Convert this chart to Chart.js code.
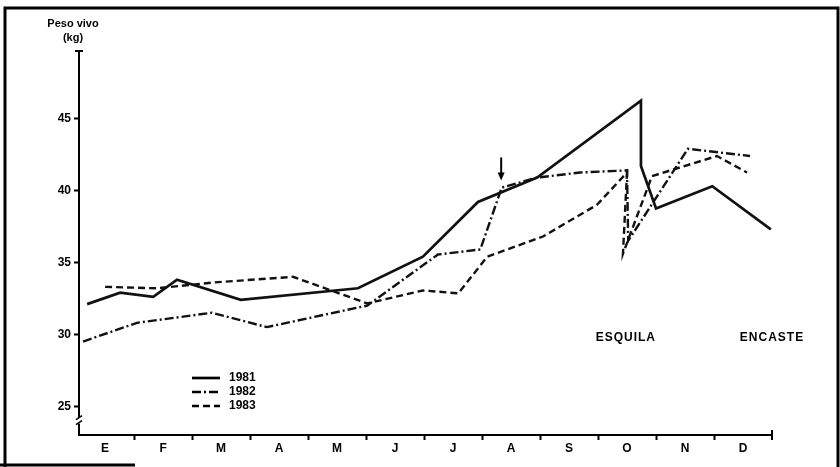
<!DOCTYPE html>
<html>
<head>
<meta charset="utf-8">
<script src="https://cdn.jsdelivr.net/npm/chart.js@4.4.0/dist/chart.umd.min.js"></script>
<style>
  html, body { margin: 0; padding: 0; background: #fff; }
  #wrap { position: relative; width: 840px; height: 467px; }
</style>
</head>
<body>
<div id="wrap"><canvas id="chart" width="840" height="467"></canvas></div>
<script>
// month initials (Spanish), shown at the middle of each month
const months = ["E", "F", "M", "A", "M", "J", "J", "A", "S", "O", "N", "D"];
const yTicks = [25, 30, 35, 40, 45];
const years = ["1981", "1982", "1983"];

// weighing dates in months from 1 January, live weight in kg
const x1981 = [0.19, 0.76, 1.33, 1.74, 2.84, 4.86, 5.98, 6.93, 7.95, 9.74, 9.74, 10.0, 10.97, 11.98];
const y1981 = [32.1, 32.9, 32.6, 33.8, 32.4, 33.2, 35.4, 39.2, 40.9, 46.25, 41.7, 38.75, 40.3, 37.3];

const x1982 = [0.12, 1.05, 2.34, 3.29, 5.02, 6.24, 6.97, 7.34, 7.95, 8.69, 9.5, 9.52, 10.55, 11.62];
const y1982 = [29.5, 30.8, 31.5, 30.5, 32.0, 35.55, 35.9, 40.2, 40.9, 41.25, 41.4, 36.5, 42.9, 42.4];

const x1983 = [0.5, 1.4, 2.36, 3.74, 5.02, 5.98, 6.59, 7.09, 8.05, 8.98, 9.5, 9.43, 9.93, 11.05, 11.57];
const y1983 = [33.3, 33.2, 33.6, 34.0, 32.15, 33.05, 32.85, 35.4, 36.8, 39.0, 41.25, 35.6, 41.0, 42.4, 41.25];

const toPoints = (xs, ys) => xs.map((x, i) => ({ x: x, y: ys[i] }));

// x ticks: month boundaries (marks only) and month centres (letters only)
const xTickValues = [];
for (let i = 0; i < 12; i++) {
  xTickValues.push(i + 0.5);
  if (i > 0) xTickValues.push(i);
}
xTickValues.sort((a, b) => a - b);
const isCentre = (v) => Math.abs(v % 1 - 0.5) < 0.01;

const FONT = "'Liberation Sans', Arial, sans-serif";

// frame, axis caps, axis break, notes, arrow and the little legend
const decor = {
  id: "decor",
  afterDraw(chart) {
    const ctx = chart.ctx;
    const a = chart.chartArea;
    const xs = chart.scales.x;
    const ys = chart.scales.y;
    ctx.save();
    ctx.strokeStyle = "#000";
    ctx.fillStyle = "#000";
    ctx.lineCap = "butt";

    // outer frame
    ctx.lineWidth = 3;
    ctx.beginPath();
    ctx.moveTo(5, 467); ctx.lineTo(5, 8); ctx.lineTo(838, 8); ctx.lineTo(838, 467);
    ctx.moveTo(0, 465); ctx.lineTo(135, 465);
    ctx.stroke();

    // cap on top of y axis, end mark on x axis
    ctx.lineWidth = 2;
    ctx.beginPath();
    ctx.moveTo(a.left - 4, a.top); ctx.lineTo(a.left + 4, a.top);
    ctx.moveTo(a.right, a.bottom - 5); ctx.lineTo(a.right, a.bottom + 5);
    ctx.stroke();

    // axis break near the foot of the y axis
    const yb = ys.getPixelForValue(24);
    ctx.fillStyle = "#fff";
    ctx.fillRect(a.left - 3, yb - 3, 6, 6);
    ctx.fillStyle = "#000";
    ctx.lineWidth = 1.5;
    ctx.beginPath();
    ctx.moveTo(a.left - 3, yb - 1); ctx.lineTo(a.left + 3, yb - 5);
    ctx.moveTo(a.left - 3, yb + 4); ctx.lineTo(a.left + 3, yb);
    ctx.stroke();

    // y axis title
    ctx.font = "bold 11px " + FONT;
    ctx.textAlign = "center";
    ctx.textBaseline = "middle";
    ctx.fillText("Peso vivo", 73, 24);
    ctx.fillText("(kg)", 73, 38);

    // notes under the curves
    ctx.font = "bold 12px " + FONT;
    ctx.letterSpacing = "1px";
    ctx.fillText("ESQUILA", xs.getPixelForValue(9.48), ys.getPixelForValue(29.8));
    ctx.fillText("ENCASTE", xs.getPixelForValue(12.0), ys.getPixelForValue(29.8));
    ctx.letterSpacing = "0px";

    // arrow over the August weighing of 1982
    const ax = xs.getPixelForValue(7.33);
    const ay0 = ys.getPixelForValue(42.3);
    const ay1 = ys.getPixelForValue(40.7);
    ctx.lineWidth = 2;
    ctx.beginPath();
    ctx.moveTo(ax, ay0); ctx.lineTo(ax, ay1 - 6);
    ctx.stroke();
    ctx.beginPath();
    ctx.moveTo(ax - 3.5, ay1 - 8); ctx.lineTo(ax + 3.5, ay1 - 8); ctx.lineTo(ax, ay1);
    ctx.closePath();
    ctx.fill();

    // legend
    ctx.textAlign = "left";
    ctx.font = "bold 12px " + FONT;
    chart.data.datasets.forEach((ds, i) => {
      const ly = 378 + i * 14;
      ctx.lineWidth = ds.borderWidth;
      ctx.setLineDash(ds.borderDash || []);
      ctx.beginPath();
      ctx.moveTo(192, ly); ctx.lineTo(220, ly);
      ctx.stroke();
      ctx.setLineDash([]);
      ctx.fillText(ds.label, 229, ly);
    });
    ctx.restore();
  }
};

new Chart(document.getElementById("chart"), {
  type: "line",
  data: {
    datasets: [
      {
        label: years[0],
        data: toPoints(x1981, y1981),
        borderColor: "#111",
        borderWidth: 2.7,
        borderDash: []
      },
      {
        label: years[1],
        data: toPoints(x1982, y1982),
        borderColor: "#111",
        borderWidth: 2.4,
        borderDash: [9, 3, 2, 3]
      },
      {
        label: years[2],
        data: toPoints(x1983, y1983),
        borderColor: "#111",
        borderWidth: 2.4,
        borderDash: [7, 4]
      }
    ]
  },
  options: {
    responsive: false,
    animation: false,
    devicePixelRatio: 1,
    layout: { padding: { top: 51, right: 68, left: 0, bottom: 0 } },
    elements: {
      point: { radius: 0 },
      line: { tension: 0, fill: false }
    },
    plugins: {
      legend: { display: false },
      tooltip: { enabled: false }
    },
    scales: {
      x: {
        type: "linear",
        min: 0.05,
        max: 12,
        afterBuildTicks: (axis) => { axis.ticks = xTickValues.map((v) => ({ value: v })); },
        afterFit: (axis) => { axis.height = 32; },
        border: { color: "#000", width: 2 },
        grid: {
          drawOnChartArea: false,
          drawTicks: true,
          tickLength: 5,
          tickWidth: 2,
          tickColor: (c) => (c.tick && isCentre(c.tick.value) ? "rgba(0,0,0,0)" : "#000")
        },
        ticks: {
          autoSkip: false,
          maxRotation: 0,
          padding: 1,
          color: "#000",
          font: { family: FONT, size: 12, weight: "bold" },
          callback: (v) => (isCentre(v) ? months[Math.floor(v)] : "")
        }
      },
      y: {
        min: 23,
        max: 49.7,
        afterBuildTicks: (axis) => { axis.ticks = yTicks.map((v) => ({ value: v })); },
        afterFit: (axis) => { axis.width = 79; },
        border: { color: "#000", width: 2 },
        grid: {
          drawOnChartArea: false,
          drawTicks: true,
          tickLength: 5,
          tickWidth: 2,
          tickColor: "#000"
        },
        ticks: {
          padding: 3,
          color: "#000",
          font: { family: FONT, size: 12, weight: "bold" }
        }
      }
    }
  },
  plugins: [decor]
});
</script>
</body>
</html>
